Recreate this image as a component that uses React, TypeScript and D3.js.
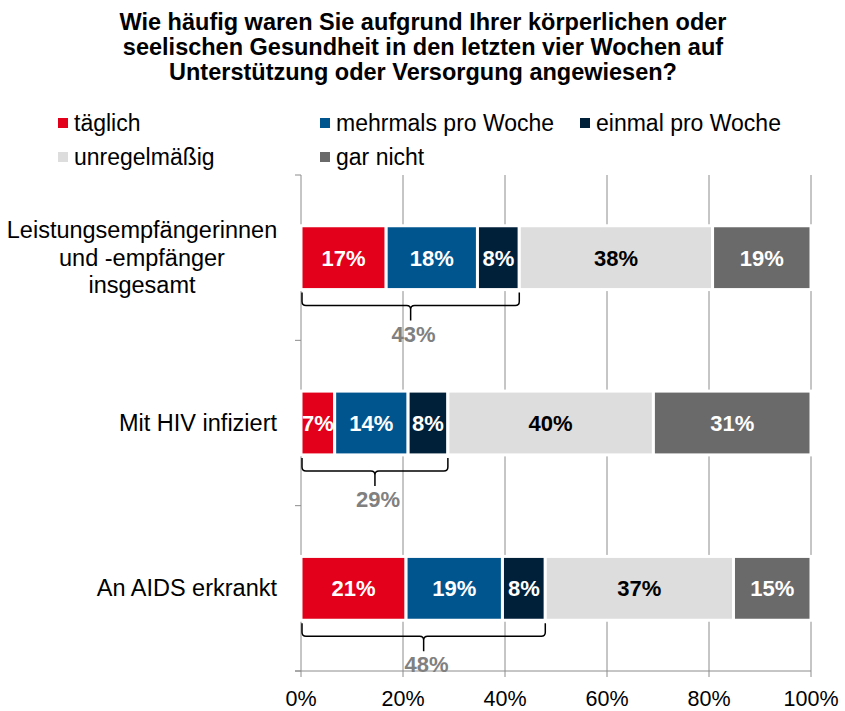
import React from "react";
import * as d3 from "d3";

// chart values (percent)
const categories = [
  "Leistungsempfängerinnen und -empfänger insgesamt",
  "Mit HIV infiziert",
  "An AIDS erkrankt",
];
const categoryLines = [
  ["Leistungsempfängerinnen", "und -empfänger", "insgesamt"],
  ["Mit HIV infiziert"],
  ["An AIDS erkrankt"],
];
const seriesNames = [
  "täglich",
  "mehrmals pro Woche",
  "einmal pro Woche",
  "unregelmäßig",
  "gar nicht",
];
const taeglich = [16.7, 6.6, 20.6];
const mehrmals = [17.9, 14.4, 18.9];
const einmal = [8.2, 7.8, 8.4];
const unregelmaessig = [37.9, 40.3, 36.9];
const garNicht = [19.3, 30.9, 15.2];
const xTicks = [0, 20, 40, 60, 80, 100];
const titleLines = [
  "Wie häufig waren Sie aufgrund Ihrer körperlichen oder",
  "seelischen Gesundheit in den letzten vier Wochen auf",
  "Unterstützung oder Versorgung angewiesen?",
];

const colors = ["#e2001a", "#00558f", "#00203a", "#dddddd", "#6a6a6a"];
const labelColors = ["#fff", "#fff", "#fff", "#000", "#fff"];
const FONT = "'Liberation Sans', Arial, sans-serif";

const W = 845;
const H = 711;

export default function App() {
  const table = categories.map((c, i) => ({
    cat: c,
    s0: taeglich[i],
    s1: mehrmals[i],
    s2: einmal[i],
    s3: unregelmaessig[i],
    s4: garNicht[i],
  }));
  const keys = ["s0", "s1", "s2", "s3", "s4"];
  const stacked = d3.stack<any>().keys(keys)(table);

  const x = d3.scaleLinear().domain([0, 100]).range([301, 811]);
  const y = d3
    .scaleBand()
    .domain(categories)
    .range([175, 671])
    .paddingInner(0.614)
    .paddingOuter(0.307);
  const step = y.step();
  const boundaries = d3.range(categories.length + 1).map((i) => 175 + i * step);

  // legend layout: two rows, three columns
  const legendCols = [58, 320, 580];
  const legendRows = [123, 157];

  return (
    <svg
      width={W}
      height={H}
      style={{ position: "absolute", left: 0, top: 0, display: "block" }}
      fontFamily={FONT}
    >
      <rect width={W} height={H} fill="#fff" />

      {/* title */}
      {titleLines.map((t, i) => (
        <text
          key={i}
          x={423}
          y={30 + i * 25}
          textAnchor="middle"
          fontSize={23.5}
          fontWeight="bold"
          fill="#000"
        >
          {t}
        </text>
      ))}

      {/* legend */}
      {seriesNames.map((name, i) => {
        const lx = legendCols[i % 3];
        const ly = legendRows[Math.floor(i / 3)];
        return (
          <g key={name}>
            <rect x={lx} y={ly - 5} width={10} height={10} fill={colors[i]} />
            <text x={lx + 16} y={ly + 8} fontSize={23} fill="#000">
              {name}
            </text>
          </g>
        );
      })}

      {/* gridlines */}
      {xTicks.slice(1).map((t) => (
        <line
          key={t}
          x1={x(t)}
          x2={x(t)}
          y1={175}
          y2={671}
          stroke="#8c8c8c"
          strokeWidth={1}
        />
      ))}

      {/* left axis */}
      <line x1={x(0)} x2={x(0)} y1={175} y2={671} stroke="#8c8c8c" />
      {boundaries.map((b, i) => (
        <line key={i} x1={x(0) - 6} x2={x(0)} y1={b} y2={b} stroke="#8c8c8c" />
      ))}

      {/* bottom axis */}
      <line x1={x(0) - 6} x2={x(100)} y1={671} y2={671} stroke="#8c8c8c" />
      {xTicks.map((t) => (
        <g key={t}>
          <line x1={x(t)} x2={x(t)} y1={671} y2={677} stroke="#8c8c8c" />
          <text
            x={Math.min(x(t), 815)}
            y={706}
            textAnchor="middle"
            fontSize={21.5}
            fill="#000"
          >
            {t}%
          </text>
        </g>
      ))}

      {/* stacked bars */}
      {stacked.map((layer, si) =>
        layer.map((d, ci) => {
          const x0 = x(d[0]);
          const x1 = x(d[1]);
          const yy = y(categories[ci])!;
          const v = d[1] - d[0];
          return (
            <g key={`${si}-${ci}`}>
              <rect
                x={x0}
                y={yy}
                width={x1 - x0}
                height={y.bandwidth()}
                fill={colors[si]}
                stroke="#fff"
                strokeWidth={3}
              />
              <text
                x={(x0 + x1) / 2}
                y={yy + y.bandwidth() / 2 + 8}
                textAnchor="middle"
                fontSize={22}
                fontWeight="bold"
                fill={labelColors[si]}
              >
                {Math.round(v)}%
              </text>
            </g>
          );
        })
      )}

      {/* braces summing the first three answers */}
      {categories.map((c, ci) => {
        const total = taeglich[ci] + mehrmals[ci] + einmal[ci];
        const bx1 = x(0) + 1;
        const bx2 = x(total);
        const mid = (bx1 + bx2) / 2;
        const bottom = y(c)! + y.bandwidth();
        const top = bottom + 3;
        const h = bottom + 16;
        const nub = bottom + 31;
        const r = 4;
        const path =
          `M${bx1},${top} L${bx1},${h - r} Q${bx1},${h} ${bx1 + r},${h} ` +
          `L${mid - r},${h} Q${mid},${h} ${mid},${h + r} L${mid},${nub} ` +
          `M${mid},${h + r} Q${mid},${h} ${mid + r},${h} ` +
          `L${bx2 - r},${h} Q${bx2},${h} ${bx2},${h - r} L${bx2},${top}`;
        return (
          <g key={c}>
            <path d={path} fill="none" stroke="#000" strokeWidth={1.5} />
            <text
              x={mid + 3}
              y={bottom + 52}
              textAnchor="middle"
              fontSize={22}
              fontWeight="bold"
              fill="#808080"
            >
              {Math.round(total)}%
            </text>
          </g>
        );
      })}

      {/* category labels */}
      {categories.map((c, ci) => {
        const lines = categoryLines[ci];
        const cy = y(c)! + y.bandwidth() / 2;
        const multi = lines.length > 1;
        return lines.map((ln, li) => (
          <text
            key={`${ci}-${li}`}
            x={multi ? 142 : 277}
            y={cy + 8 + (li - (lines.length - 1) / 2) * 27.5}
            textAnchor={multi ? "middle" : "end"}
            fontSize={23.5}
            fill="#000"
          >
            {ln}
          </text>
        ));
      })}
    </svg>
  );
}
